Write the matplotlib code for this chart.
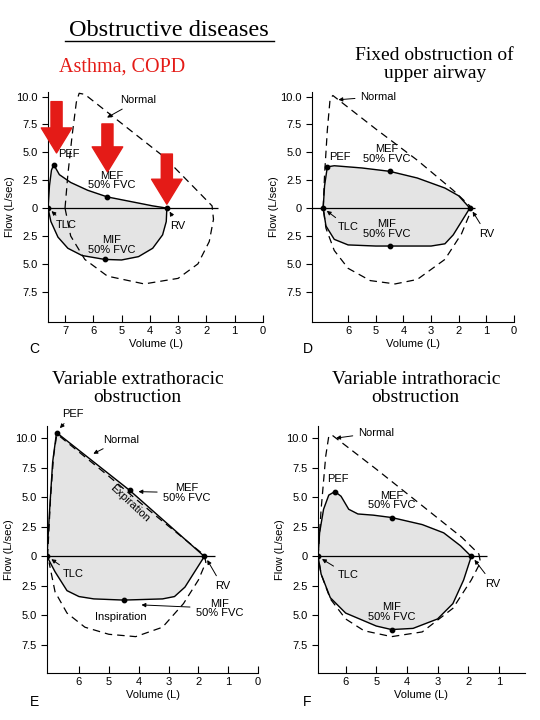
import matplotlib
matplotlib.use("Agg")
import matplotlib.pyplot as plt

plt.rcParams['font.family'] = ['Liberation Sans', 'DejaVu Sans']

ytick_vals = [10, 7.5, 5, 2.5, 0, -2.5, -5, -7.5]
ytick_labels = ["10.0", "7.5", "5.0", "2.5", "0", "2.5", "5.0", "7.5"]

# panel C: asthma / COPD
c_norm_x = [7.0, 6.9, 6.75, 6.6, 6.5, 6.3, 5.0, 3.5, 2.3, 1.8, 1.75, 1.9, 2.3, 3.0, 4.2, 5.5, 6.3, 6.8, 7.0]
c_norm_y = [0, 3, 6.5, 9.5, 10.3, 10.2, 7.6, 4.6, 1.5, 0.2, -1, -3, -5, -6.3, -6.8, -6.1, -4.6, -2.5, 0]
c_exp_x = [7.6, 7.55, 7.48, 7.4, 7.2, 6.8, 6.2, 5.5, 4.5, 3.9, 3.4]
c_exp_y = [0, 2.0, 3.4, 3.9, 3.0, 2.3, 1.6, 1.0, 0.5, 0.2, 0]
c_ins_x = [7.6, 7.5, 7.25, 6.9, 6.4, 5.6, 5.0, 4.4, 3.9, 3.55, 3.42, 3.4]
c_ins_y = [0, -1.2, -2.6, -3.6, -4.25, -4.6, -4.65, -4.35, -3.6, -2.4, -1.2, 0]
c_pts_x = [7.4, 5.5, 5.6, 7.6, 3.4]
c_pts_y = [3.9, 1.0, -4.6, 0, 0]
arrow_x = [7.3, 5.5, 3.4]
arrow_top = [9.8, 7.8, 5.1]
arrow_tip = [4.7, 3.0, 0.1]

# panel D: fixed upper airway obstruction
d_norm_x = [6.9, 6.85, 6.75, 6.65, 6.55, 5.0, 3.5, 2.2, 1.6, 1.6, 1.9, 2.5, 3.5, 4.3, 5.2, 6.0, 6.5, 6.8, 6.9]
d_norm_y = [0, 3, 7, 9.8, 10.1, 7.1, 4.3, 1.6, 0.2, -0.5, -2.3, -4.6, -6.4, -6.8, -6.5, -5.4, -3.8, -1.8, 0]
d_exp_x = [6.9, 6.85, 6.75, 6.5, 5.5, 4.5, 3.5, 2.5, 2.0, 1.6]
d_exp_y = [0, 2.0, 3.7, 3.8, 3.6, 3.3, 2.7, 1.8, 1.1, 0]
d_ins_x = [6.9, 6.8, 6.5, 6.0, 5.0, 4.5, 3.0, 2.5, 2.2, 1.85, 1.6]
d_ins_y = [0, -1.6, -2.8, -3.3, -3.4, -3.4, -3.4, -3.2, -2.4, -1.0, 0]
d_pts_x = [6.75, 4.5, 4.5, 6.9, 1.6]
d_pts_y = [3.7, 3.3, -3.4, 0, 0]

# panel E: variable extrathoracic obstruction
e_norm_x = [7.05, 6.95, 6.85, 6.75, 6.7, 5.0, 3.5, 1.8, 1.75, 2.0, 2.5, 3.2, 4.1, 5.0, 5.8, 6.4, 6.8, 7.0]
e_norm_y = [0, 5.0, 8.5, 10.2, 10.3, 6.8, 3.6, 0.1, -0.5, -2.0, -4.0, -6.0, -6.8, -6.6, -6.0, -4.8, -3.0, -0.5]
e_exp_x = [7.07, 6.98, 6.88, 6.75, 4.3, 1.8]
e_exp_y = [0, 4.0, 8.0, 10.5, 5.6, 0]
e_ins_x = [7.07, 6.8, 6.4, 6.0, 5.5, 4.5, 3.2, 2.8, 2.45, 2.1, 1.8]
e_ins_y = [0, -1.3, -2.9, -3.4, -3.6, -3.7, -3.6, -3.4, -2.6, -1.2, 0]
e_pts_x = [6.75, 4.3, 4.5, 7.07, 1.8]
e_pts_y = [10.5, 5.6, -3.7, 0, 0]

# panel F: variable intrathoracic obstruction
f_norm_x = [6.9, 6.8, 6.65, 6.55, 6.45, 5.0, 3.5, 2.2, 1.65, 1.6, 1.9, 2.5, 3.5, 4.5, 5.4, 6.0, 6.5, 6.8, 6.9]
f_norm_y = [0, 4.0, 8.5, 10.2, 10.3, 7.4, 4.3, 1.6, 0.2, -0.5, -2.0, -4.4, -6.4, -6.8, -6.3, -5.3, -3.6, -1.5, 0]
f_exp_x = [6.9, 6.85, 6.72, 6.55, 6.35, 6.15, 5.9, 5.6, 5.1, 4.5, 3.5, 2.8, 2.25, 1.9]
f_exp_y = [0, 2.0, 4.0, 5.2, 5.5, 5.1, 4.0, 3.6, 3.5, 3.3, 2.7, 2.0, 0.9, 0]
f_ins_x = [6.9, 6.8, 6.5, 6.0, 5.0, 4.5, 3.8, 3.0, 2.5, 2.15, 1.9]
f_ins_y = [0, -1.5, -3.5, -4.8, -5.9, -6.2, -6.1, -5.3, -4.0, -2.0, 0]
f_pts_x = [6.35, 4.5, 4.5, 6.9, 1.9]
f_pts_y = [5.5, 3.3, -6.2, 0, 0]

FS = 8

fig = plt.figure(figsize=(5.4, 7.2), dpi=100)


def loop(ax, nx, ny, ex, ey, ix, iy, px, py, xmax, xlim, ylim, xticks, zero_end):
    ax.fill(ex + ix[::-1], ey + iy[::-1], color="#e4e4e4", zorder=1)
    ax.plot(nx, ny, color="k", lw=0.9, ls=(0, (6, 4)), zorder=2)
    ax.plot(ex, ey, color="k", lw=1.0, zorder=3)
    ax.plot(ix, iy, color="k", lw=1.0, zorder=3)
    ax.hlines(0, xmax, zero_end, color="k", lw=0.9, zorder=3)
    ax.scatter(px, py, s=10, color="k", zorder=4)
    ax.set_xlim(*xlim)
    ax.set_ylim(*ylim)
    ax.set_yticks(ytick_vals)
    ax.set_yticklabels(ytick_labels)
    ax.set_xticks(xticks)
    ax.set_xticklabels([str(v) for v in xticks])
    for s in ["top", "right"]:
        ax.spines[s].set_visible(False)
    ax.tick_params(axis="x", direction="in", length=5, labelsize=FS, pad=3)
    ax.tick_params(axis="y", direction="out", length=4, labelsize=FS)
    ax.set_xlabel("Volume (L)", fontsize=FS, labelpad=2)
    ax.set_ylabel("Flow (L/sec)", fontsize=FS, labelpad=1)
    ax.set_facecolor("none")


def note(ax, txt, xy, xytext, ha="center"):
    ax.annotate(txt, xy=xy, xytext=xytext, fontsize=FS, ha=ha, va="center", linespacing=0.95,
                arrowprops=dict(arrowstyle="-|>", color="k", lw=0.7, mutation_scale=6))


axC = fig.add_axes([0.089, 0.553, 0.398, 0.319])
loop(axC, c_norm_x, c_norm_y, c_exp_x, c_exp_y, c_ins_x, c_ins_y, c_pts_x, c_pts_y,
     7.6, (7.6, 0), (-10.2, 10.4), [7, 6, 5, 4, 3, 2, 1, 0], 1.6)
note(axC, "Normal", (5.6, 8.0), (4.4, 9.7))
axC.text(7.25, 4.6, "PEF", fontsize=FS)
axC.text(5.35, 1.6, "MEF\n50% FVC", fontsize=FS, ha="center", va="bottom", linespacing=0.95)
note(axC, "TLC", (7.55, -0.1), (6.95, -1.5))
axC.text(5.35, -3.3, "MIF\n50% FVC", fontsize=FS, ha="center", va="center", linespacing=0.95)
note(axC, "RV", (3.35, -0.1), (3.0, -1.6))
for x0, y0, y1 in zip(arrow_x, arrow_top, arrow_tip):
    axC.annotate("", xy=(x0, y1), xytext=(x0, y0),
                 arrowprops=dict(arrowstyle="simple,head_width=2.2,head_length=1.8,tail_width=0.8",
                                 fc="#e41b17", ec="#e41b17", mutation_scale=10))

axD = fig.add_axes([0.578, 0.553, 0.374, 0.319])
loop(axD, d_norm_x, d_norm_y, d_exp_x, d_exp_y, d_ins_x, d_ins_y, d_pts_x, d_pts_y,
     7.3, (7.3, 0), (-10.2, 10.4), [6, 5, 4, 3, 2, 1, 0], 1.4)
note(axD, "Normal", (6.45, 9.7), (4.9, 10.0))
axD.text(6.7, 4.3, "PEF", fontsize=FS)
axD.text(4.6, 4.0, "MEF\n50% FVC", fontsize=FS, ha="center", va="bottom", linespacing=0.95)
note(axD, "TLC", (6.85, -0.1), (6.0, -1.7))
axD.text(4.6, -1.9, "MIF\n50% FVC", fontsize=FS, ha="center", va="center", linespacing=0.95)
note(axD, "RV", (1.55, -0.1), (1.0, -2.3))

axE = fig.add_axes([0.087, 0.065, 0.391, 0.344])
loop(axE, e_norm_x, e_norm_y, e_exp_x, e_exp_y, e_ins_x, e_ins_y, e_pts_x, e_pts_y,
     7.07, (7.07, 0), (-9.9, 11.1), [6, 5, 4, 3, 2, 1, 0], 1.45)
note(axE, "PEF", (6.7, 10.7), (6.2, 12.1))
note(axE, "Normal", (5.6, 8.6), (4.6, 9.9))
note(axE, "MEF\n50% FVC", (4.1, 5.5), (2.4, 5.4))
axE.text(4.3, 4.5, "Expiration", fontsize=FS, rotation=-43, ha="center", va="center")
note(axE, "TLC", (7.0, -0.1), (6.2, -1.5))
note(axE, "RV", (1.75, -0.1), (1.2, -2.5))
note(axE, "MIF\n50% FVC", (4.0, -4.1), (1.3, -4.4))
axE.text(4.6, -5.1, "Inspiration", fontsize=FS, ha="center", va="center")

axF = fig.add_axes([0.589, 0.065, 0.383, 0.344])
loop(axF, f_norm_x, f_norm_y, f_exp_x, f_exp_y, f_ins_x, f_ins_y, f_pts_x, f_pts_y,
     6.9, (6.9, 0.15), (-9.9, 11.1), [6, 5, 4, 3, 2, 1], 1.4)
note(axF, "Normal", (6.4, 10.0), (5.0, 10.5))
axF.text(6.6, 6.3, "PEF", fontsize=FS)
axF.text(4.5, 3.9, "MEF\n50% FVC", fontsize=FS, ha="center", va="bottom", linespacing=0.95)
note(axF, "TLC", (6.85, -0.1), (5.9, -1.6))
axF.text(4.5, -4.7, "MIF\n50% FVC", fontsize=FS, ha="center", va="center", linespacing=0.95)
note(axF, "RV", (1.85, -0.1), (1.2, -2.3))

for lx, ly, lt in [(0.055, 0.51, "C"), (0.56, 0.51, "D"), (0.055, 0.02, "E"), (0.56, 0.02, "F")]:
    fig.text(lx, ly, lt, fontsize=10)

serif = ['Liberation Serif', 'DejaVu Serif']
fig.text(0.312, 0.958, "Obstructive diseases", fontsize=17.5, ha="center", va="center", family=serif)
fig.add_artist(plt.Line2D([0.12, 0.508], [0.943, 0.943], color="k", lw=1))
fig.text(0.226, 0.907, "Asthma, COPD", fontsize=14.5, color="#e41b17", ha="center", va="center", family=serif)
fig.text(0.805, 0.91, "Fixed obstruction of\nupper airway", fontsize=14, ha="center", va="center",
         family=serif, linespacing=1.1)
fig.text(0.255, 0.46, "Variable extrathoracic\nobstruction", fontsize=14, ha="center", va="center",
         family=serif, linespacing=1.1)
fig.text(0.77, 0.46, "Variable intrathoracic\nobstruction", fontsize=14, ha="center", va="center",
         family=serif, linespacing=1.1)

fig.savefig("out.png", dpi=100)
